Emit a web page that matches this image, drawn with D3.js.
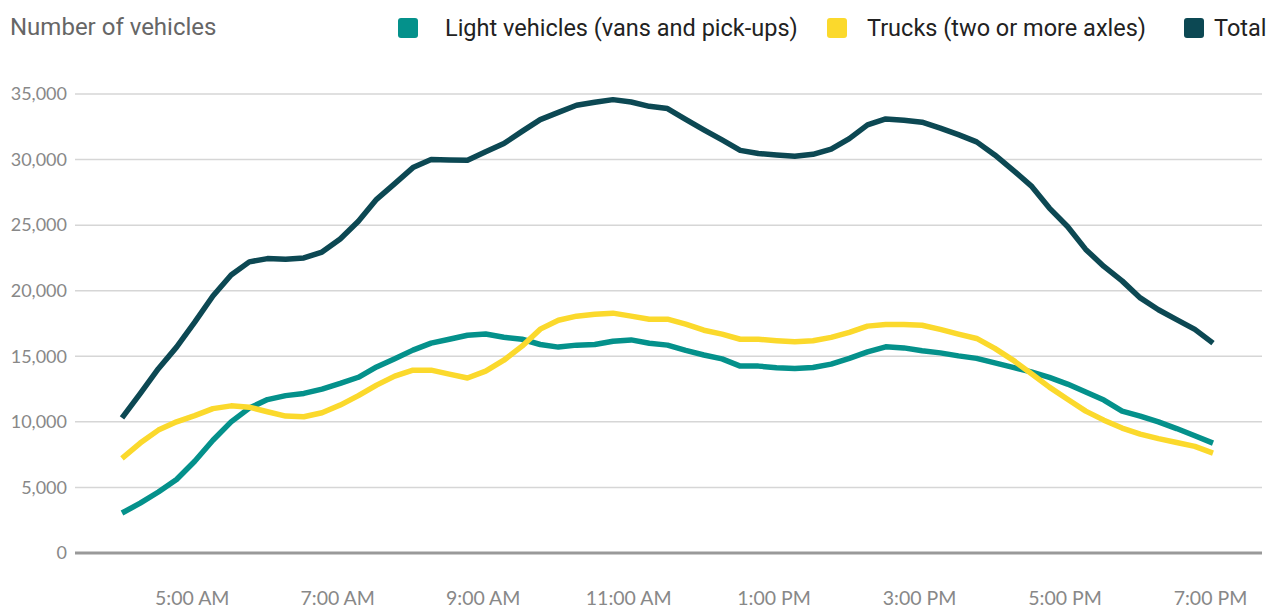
<!DOCTYPE html>
<html>
<head>
	<title>Vehicles by time of day</title>
	<script src="https://d3js.org/d3.v7.min.js"></script>
	<style>
		body { margin: 0; background: #fff; }
	</style>
</head>
<body>
	<script type="text/javascript">
		// time slots, every 15 minutes
		var times = ["04:00","04:15","04:30","04:45","05:00","05:15","05:30","05:45",
			"06:00","06:15","06:30","06:45","07:00","07:15","07:30","07:45",
			"08:00","08:15","08:30","08:45","09:00","09:15","09:30","09:45",
			"10:00","10:15","10:30","10:45","11:00","11:15","11:30","11:45",
			"12:00","12:15","12:30","12:45","13:00","13:15","13:30","13:45",
			"14:00","14:15","14:30","14:45","15:00","15:15","15:30","15:45",
			"16:00","16:15","16:30","16:45","17:00","17:15","17:30","17:45",
			"18:00","18:15","18:30","18:45","19:00"];

		var light = [3050,3800,4650,5600,7000,8600,10000,11050,11700,12000,12170,12500,12930,13400,14190,14820,
			15470,16000,16300,16600,16700,16450,16300,15900,15700,15850,15900,16150,16250,16000,15850,15450,
			15100,14800,14250,14250,14130,14070,14150,14400,14840,15340,15720,15640,15420,15260,15030,14840,
			14500,14150,13810,13390,12880,12270,11660,10820,10440,10000,9490,8940,8380];

		var trucks = [7220,8380,9370,10000,10480,11010,11220,11120,10770,10440,10390,10690,11280,12000,12800,13490,
			13940,13940,13640,13340,13870,14700,15770,17070,17750,18060,18210,18290,18060,17830,17830,17450,
			16990,16690,16300,16300,16190,16100,16180,16440,16820,17300,17430,17430,17370,17050,16690,16360,
			15600,14710,13690,12650,11730,10820,10130,9530,9070,8720,8430,8130,7620];

		var total = [10300,12150,14050,15700,17600,19600,21200,22200,22450,22400,22500,22950,23950,25300,26970,28170,
			29390,30000,29970,29950,30600,31220,32150,33050,33600,34140,34370,34570,34390,34060,33890,33070,
			32270,31500,30700,30460,30350,30250,30400,30800,31600,32650,33100,33000,32850,32400,31900,31350,
			30350,29200,28000,26300,24900,23150,21850,20750,19450,18550,17800,17050,16000];

		var yTicks = [0, 5000, 10000, 15000, 20000, 25000, 30000, 35000];
		var xTicks = ["05:00","07:00","09:00","11:00","13:00","15:00","17:00","19:00"];

		var seriesNames = ["Light vehicles (vans and pick-ups)", "Trucks (two or more axles)", "Total"];
		var colors = ["#04918b", "#fbd92c", "#0c4853"];

		var width = 1269;
		var height = 608;

		var parseTime = d3.timeParse("%H:%M");
		var dates = times.map(parseTime);

		var svg = d3.select("body")
					.append("svg")
					.attr("width", width)
					.attr("height", height);

		var xScale = d3.scaleTime()
					   .domain([parseTime("04:00"), parseTime("19:00")])
					   .range([122, 1213]);

		var yScale = d3.scaleLinear()
					   .domain([0, 35000])
					   .range([553, 94]);

		// horizontal gridlines
		svg.selectAll(".grid")
		   .data(yTicks.filter(function(d) { return d > 0; }))
		   .enter()
		   .append("line")
		   .attr("x1", 75)
		   .attr("x2", 1262)
		   .attr("y1", function(d) { return yScale(d); })
		   .attr("y2", function(d) { return yScale(d); })
		   .attr("stroke", "#d6d6d6")
		   .attr("stroke-width", 1.5);

		// baseline
		svg.append("line")
		   .attr("x1", 75)
		   .attr("x2", 1262)
		   .attr("y1", yScale(0))
		   .attr("y2", yScale(0))
		   .attr("stroke", "#999")
		   .attr("stroke-width", 3);

		// y labels
		var yAxis = d3.axisLeft(yScale)
					  .tickValues(yTicks)
					  .tickFormat(d3.format(","))
					  .tickSize(0)
					  .tickPadding(0);
		var gy = svg.append("g")
					.attr("transform", "translate(67,0)")
					.call(yAxis);
		gy.select(".domain").remove();
		gy.selectAll("text")
		  .attr("fill", "#888")
		  .style("font-family", "Lato")
		  .style("font-size", "18px");

		// x labels
		var xAxis = d3.axisBottom(xScale)
					  .tickValues(xTicks.map(parseTime))
					  .tickFormat(d3.timeFormat("%-I:%M %p"))
					  .tickSize(0)
					  .tickPadding(0);
		var gx = svg.append("g")
					.attr("transform", "translate(0,591)")
					.call(xAxis);
		gx.select(".domain").remove();
		gx.selectAll("text")
		  .attr("fill", "#888")
		  .attr("dx", -3)
		  .style("font-family", "Lato")
		  .style("font-size", "19.5px");

		// lines
		var line = d3.line()
					 .x(function(d, i) { return xScale(dates[i]); })
					 .y(function(d) { return yScale(d); });

		[light, trucks, total].forEach(function(s, k) {
			svg.append("path")
			   .datum(s)
			   .attr("d", line)
			   .attr("fill", "none")
			   .attr("stroke", colors[k])
			   .attr("stroke-width", 5.5)
			   .attr("stroke-linejoin", "round");
		});

		// title
		svg.append("text")
		   .attr("x", 10)
		   .attr("y", 35)
		   .attr("fill", "#666")
		   .style("font-family", "Roboto")
		   .style("font-size", "24px")
		   .text("Number of vehicles");

		// legend
		var legendX = [398, 827, 1184];
		var legendTextX = [445, 867, 1214];
		seriesNames.forEach(function(name, k) {
			svg.append("rect")
			   .attr("x", legendX[k])
			   .attr("y", 18)
			   .attr("width", 20)
			   .attr("height", 20)
			   .attr("rx", 3)
			   .attr("fill", colors[k]);
			svg.append("text")
			   .attr("x", legendTextX[k])
			   .attr("y", 36)
			   .attr("fill", "#222")
			   .style("font-family", "Roboto")
			   .style("font-size", "23.5px")
			   .text(name);
		});
	</script>
</body>
</html>
